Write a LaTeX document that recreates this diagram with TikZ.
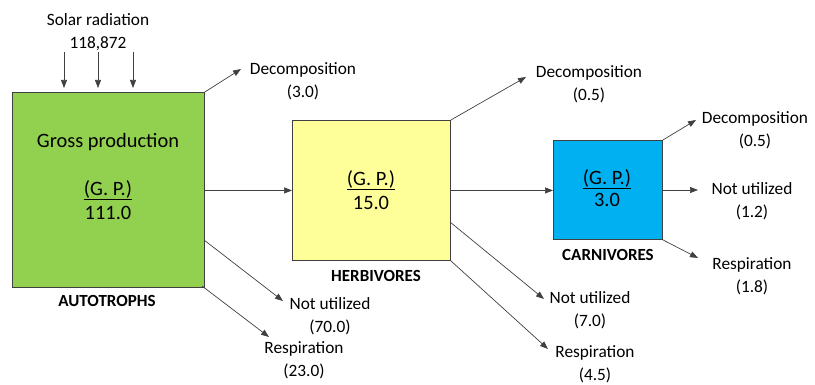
\documentclass[tikz,border=0pt]{standalone}
\usepackage{fontspec}
\setmainfont{Carlito}
\usetikzlibrary{arrows.meta}
\definecolor{autog}{HTML}{92D050}
\definecolor{herby}{HTML}{FFFF99}
\definecolor{carnb}{HTML}{00B0F0}
\definecolor{edge}{HTML}{404040}
\tikzset{
  box/.style={draw=edge, line width=0.9pt, inner sep=0pt, anchor=north west},
  lbl/.style={font=\fontsize{17.3}{22.5}\selectfont, align=center, inner sep=0pt},
  big/.style={font=\fontsize{20.4}{24}\selectfont, align=center, inner sep=0pt},
  boxcaption/.style={font=\fontsize{17}{20}\selectfont\bfseries, inner sep=0pt},
  flow/.style={draw=edge, line width=0.7pt, -{Triangle[length=8pt,width=6pt]}}
}
\begin{document}
\begin{tikzpicture}[x=1pt,y=-1pt]
\useasboundingbox (0,0) rectangle (815,385);
% boxes
\node[box, fill=autog, minimum width=192pt, minimum height=195pt] (auto) at (12,92) {};
\node[box, fill=herby, minimum width=158pt, minimum height=140pt] (herb) at (292,120) {};
\node[box, fill=carnb, minimum width=109pt, minimum height=99pt] (carn) at (553,140) {};
% box texts
\node[big] (gross) at (108,142) {Gross production};
\node[big] (gpa) at (108,190) {\underline{(G. P.)}};
\node[big] (va) at (108,213) {111.0};
\node[big] (gph) at (371,180) {\underline{(G. P.)}};
\node[big] (vh) at (371,203) {15.0};
\node[big] (gpc) at (607,179) {\underline{(G. P.)}};
\node[big] (vc) at (607,200) {3.0};
\node[boxcaption] (capa) at (107,301) {AUTOTROPHS};
\node[boxcaption] (caph) at (376,276) {HERBIVORES};
\node[boxcaption] (capc) at (608,255) {CARNIVORES};
% solar
\node[lbl] (solar) at (98,32) {Solar radiation\\118,872};
\coordinate (s1) at (64,52); \coordinate (s1e) at (64,88);
\coordinate (s2) at (98,52); \coordinate (s2e) at (98,88);
\coordinate (s3) at (133,52); \coordinate (s3e) at (133,88);
\draw[flow] (s1) -- (s1e);
\draw[flow] (s2) -- (s2e);
\draw[flow] (s3) -- (s3e);
% autotroph outputs
\node[lbl] (da) at (303,81) {Decomposition\\(3.0)};
\node[lbl] (na) at (330,316) {Not utilized\\(70.0)};
\node[lbl] (ra) at (304,360) {Respiration\\(23.0)};
\coordinate (da-e) at (241,69);
\coordinate (na-s) at (204,240); \coordinate (na-e) at (283,301);
\coordinate (ra-s) at (202,286); \coordinate (ra-e) at (269,337);
\draw[flow] (auto.north east) -- (da-e);
\draw[flow] (na-s) -- (na-e);
\draw[flow] (ra-s) -- (ra-e);
\draw[flow] (auto.east |- herb.east) -- (herb.east -| herb.west);
% herbivore outputs
\node[lbl] (dh) at (589,84) {Decomposition\\(0.5)};
\node[lbl] (nh) at (590,310) {Not utilized\\(7.0)};
\node[lbl] (rh) at (595,364) {Respiration\\(4.5)};
\coordinate (dh-e) at (526,77);
\coordinate (nh-s) at (450,222); \coordinate (nh-e) at (544,299);
\coordinate (rh-e) at (548,349);
\draw[flow] (herb.north east) -- (dh-e);
\draw[flow] (nh-s) -- (nh-e);
\draw[flow] (herb.south east) -- (rh-e);
\draw[flow] (herb.east) -- (herb.east -| carn.west);
% carnivore outputs
\node[lbl] (dc) at (755,130) {Decomposition\\(0.5)};
\node[lbl] (nc) at (752,201) {Not utilized\\(1.2)};
\node[lbl] (rc) at (752,276) {Respiration\\(1.8)};
\coordinate (dc-e) at (696,120);
\coordinate (nc-s) at (662,190); \coordinate (nc-e) at (698,190);
\coordinate (rc-e) at (698,258);
\draw[flow] (carn.north east) -- (dc-e);
\draw[flow] (nc-s) -- (nc-e);
\draw[flow] (carn.south east) -- (rc-e);
\end{tikzpicture}
\end{document}
